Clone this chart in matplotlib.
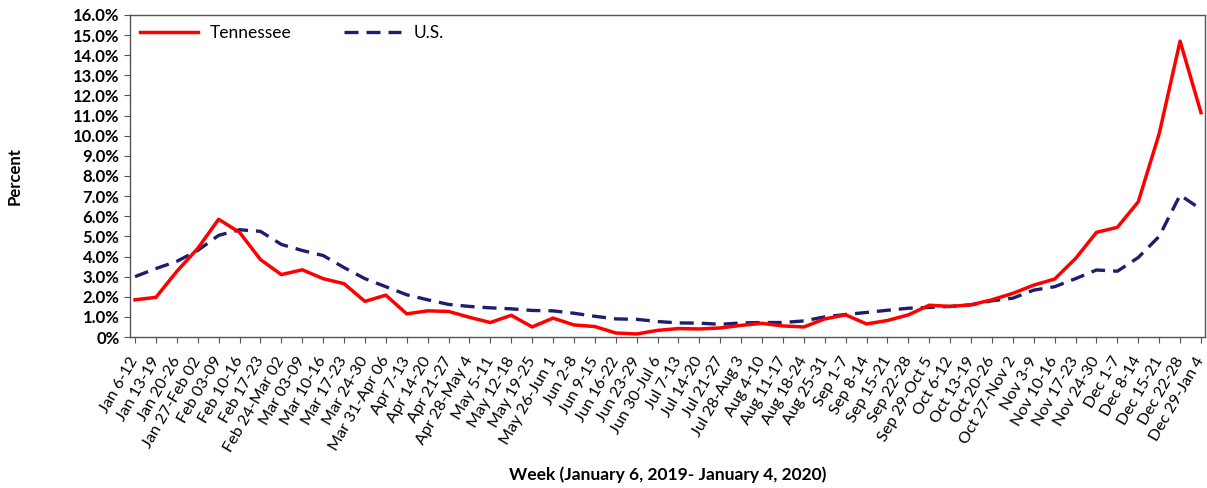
import matplotlib
matplotlib.use("Agg")
import matplotlib.pyplot as plt
import numpy as np

plt.rcParams['font.family'] = ['Lato', 'DejaVu Sans']

weeks = ['Jan 6-12', 'Jan 13-19', 'Jan 20-26', 'Jan 27-Feb 02', 'Feb 03-09',
         'Feb 10-16', 'Feb 17-23', 'Feb 24-Mar 02', 'Mar 03-09', 'Mar 10-16',
         'Mar 17-23', 'Mar 24-30', 'Mar 31-Apr 06', 'Apr 7-13', 'Apr 14-20',
         'Apr 21-27', 'Apr 28-May 4', 'May 5-11', 'May 12-18', 'May 19-25',
         'May 26-Jun 1', 'Jun 2-8', 'Jun 9-15', 'Jun 16-22', 'Jun 23-29',
         'Jun 30-Jul 6', 'Jul 7-13', 'Jul 14-20', 'Jul 21-27', 'Jul 28-Aug 3',
         'Aug 4-10', 'Aug 11-17', 'Aug 18-24', 'Aug 25-31', 'Sep 1-7',
         'Sep 8-14', 'Sep 15-21', 'Sep 22-28', 'Sep 29-Oct 5', 'Oct 6-12',
         'Oct 13-19', 'Oct 20-26', 'Oct 27-Nov 2', 'Nov 3-9', 'Nov 10-16',
         'Nov 17-23', 'Nov 24-30', 'Dec 1-7', 'Dec 8-14', 'Dec 15-21',
         'Dec 22-28', 'Dec 29-Jan 4']

tennessee = [1.85, 1.97, 3.26, 4.40, 5.85, 5.20, 3.85, 3.10, 3.34, 2.90,
             2.65, 1.77, 2.08, 1.15, 1.30, 1.27, 0.98, 0.72, 1.08, 0.50,
             0.94, 0.60, 0.52, 0.20, 0.15, 0.33, 0.42, 0.40, 0.45, 0.58,
             0.68, 0.55, 0.50, 0.90, 1.10, 0.65, 0.82, 1.10, 1.58, 1.52,
             1.60, 1.85, 2.17, 2.58, 2.88, 3.90, 5.20, 5.45, 6.72, 10.10,
             14.70, 11.15]

us = [3.00, 3.40, 3.76, 4.30, 5.05, 5.33, 5.25, 4.60, 4.30, 4.05,
      3.45, 2.90, 2.50, 2.10, 1.85, 1.62, 1.52, 1.45, 1.40, 1.32,
      1.30, 1.18, 1.03, 0.90, 0.88, 0.77, 0.70, 0.69, 0.63, 0.70,
      0.72, 0.72, 0.80, 1.00, 1.12, 1.22, 1.33, 1.43, 1.47, 1.52,
      1.60, 1.80, 1.93, 2.33, 2.50, 2.90, 3.33, 3.27, 3.95, 5.00,
      7.05, 6.35]

yticks = np.arange(0, 17, 1)
ylabels = ['0%'] + ['%.1f%%' % v for v in yticks[1:]]

fig = plt.figure(figsize=(12.07, 4.88), dpi=100)
ax = fig.add_axes([0.1077, 0.3094, 0.8906, 0.6599])

x = np.arange(len(weeks))
ax.plot(x, us, color='#1c1f6b', lw=2.4, dashes=(4.2, 2.4), label='U.S.')
ax.plot(x, tennessee, color='#ff0000', lw=2.5, label='Tennessee')

ax.set_xlim(-0.24, 51.19)
ax.set_ylim(0, 16)
ax.set_yticks(yticks)
ax.set_yticklabels(ylabels, fontsize=12, fontweight='bold')
ax.set_xticks(x)
ax.set_xticklabels(weeks, rotation=60, ha='right', va='center',
                   rotation_mode='anchor', fontsize=11.6)
ax.tick_params(axis='both', direction='out', length=4, color='#555555')
ax.tick_params(axis='x', pad=11)
for s in ax.spines.values():
    s.set_color('#555555')
    s.set_linewidth(1.0)

ax.set_ylabel('Percent', fontsize=12, fontweight='bold', labelpad=36)
fig.text(0.553, 0.027, 'Week (January 6, 2019- January 4, 2020)',
         ha='center', va='center', fontsize=12.5, fontweight='bold')

h, l = ax.get_legend_handles_labels()
ax.legend(h[::-1], l[::-1], loc='upper left', ncol=2, frameon=False,
          fontsize=12.5, handlelength=3.3, handletextpad=0.7,
          columnspacing=3.0, borderaxespad=0.2,
          bbox_to_anchor=(0.0, 1.0))

fig.savefig('out.png', dpi=100)
